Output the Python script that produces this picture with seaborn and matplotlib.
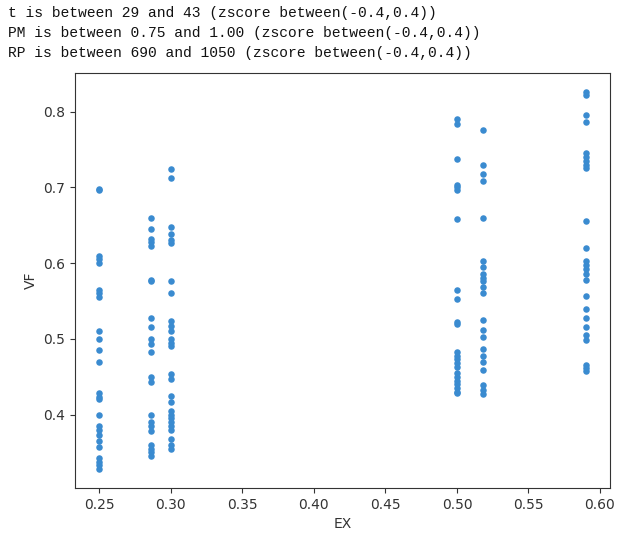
import matplotlib
matplotlib.use("Agg")
import matplotlib.pyplot as plt
import seaborn as sns
import pandas as pd

header_lines = [
    "t is between 29 and 43 (zscore between(-0.4,0.4))",
    "PM is between 0.75 and 1.00 (zscore between(-0.4,0.4))",
    "RP is between 690 and 1050 (zscore between(-0.4,0.4))",
]

ex_levels = [0.25, 0.286, 0.30, 0.50, 0.518, 0.59]

vf_025 = [0.697, 0.698, 0.61, 0.605, 0.60, 0.565, 0.56, 0.555, 0.51, 0.50, 0.485,
          0.47, 0.428, 0.423, 0.42, 0.40, 0.385, 0.38, 0.373, 0.365, 0.357, 0.343,
          0.338, 0.333, 0.328]
vf_0286 = [0.66, 0.645, 0.632, 0.628, 0.622, 0.578, 0.576, 0.528, 0.515, 0.50,
           0.493, 0.482, 0.45, 0.443, 0.40, 0.39, 0.385, 0.378, 0.36, 0.355, 0.35,
           0.345]
vf_030 = [0.724, 0.712, 0.647, 0.638, 0.63, 0.626, 0.577, 0.56, 0.524, 0.517, 0.51,
          0.50, 0.495, 0.49, 0.453, 0.447, 0.425, 0.417, 0.405, 0.40, 0.395, 0.39,
          0.385, 0.38, 0.368, 0.36, 0.355]
vf_050 = [0.79, 0.783, 0.738, 0.703, 0.700, 0.697, 0.658, 0.565, 0.552, 0.522, 0.52,
          0.482, 0.478, 0.473, 0.468, 0.463, 0.455, 0.45, 0.445, 0.44, 0.435, 0.43,
          0.428]
vf_0518 = [0.776, 0.729, 0.717, 0.709, 0.66, 0.603, 0.595, 0.585, 0.58, 0.576, 0.569,
           0.56, 0.525, 0.512, 0.503, 0.487, 0.477, 0.469, 0.459, 0.439, 0.433, 0.427]
vf_059 = [0.826, 0.822, 0.795, 0.786, 0.745, 0.74, 0.735, 0.73, 0.725, 0.656, 0.62,
          0.603, 0.598, 0.592, 0.585, 0.578, 0.556, 0.54, 0.528, 0.516, 0.505, 0.498,
          0.466, 0.462, 0.457]

groups = [vf_025, vf_0286, vf_030, vf_050, vf_0518, vf_059]
rows = []
for ex, vals in zip(ex_levels, groups):
    for v in vals:
        rows.append({"EX": ex, "VF": v})
df = pd.DataFrame(rows)

plt.rcParams["font.family"] = ["DejaVu Sans"]

W, H = 618, 537
fig = plt.figure(figsize=(W / 100, H / 100), dpi=100)
ax = fig.add_axes([75 / W, (H - 488) / H, (610 - 75) / W, (488 - 73) / H])

sns.scatterplot(data=df, x="EX", y="VF", ax=ax, color="#3a8bd0", s=22,
                linewidth=0)

ax.set_xticks([0.25, 0.30, 0.35, 0.40, 0.45, 0.50, 0.55, 0.60])
ax.set_yticks([0.4, 0.5, 0.6, 0.7, 0.8])
ax.tick_params(labelsize=10, colors="#333333")
ax.tick_params(colors="#333333")
for sp in ax.spines.values():
    sp.set_color("#333333")
ax.xaxis.label.set_color("#333333")
ax.yaxis.label.set_color("#333333")
ax.set_xlabel("EX", fontsize=10)
ax.set_ylabel("VF", fontsize=10)

for i, line in enumerate(header_lines):
    fig.text(8 / W, 1 - (12.5 + i * 20) / H, line, family="Liberation Mono",
             fontsize=10.5, va="center", ha="left", color="#111111")

fig.savefig("out.png", dpi=100)
